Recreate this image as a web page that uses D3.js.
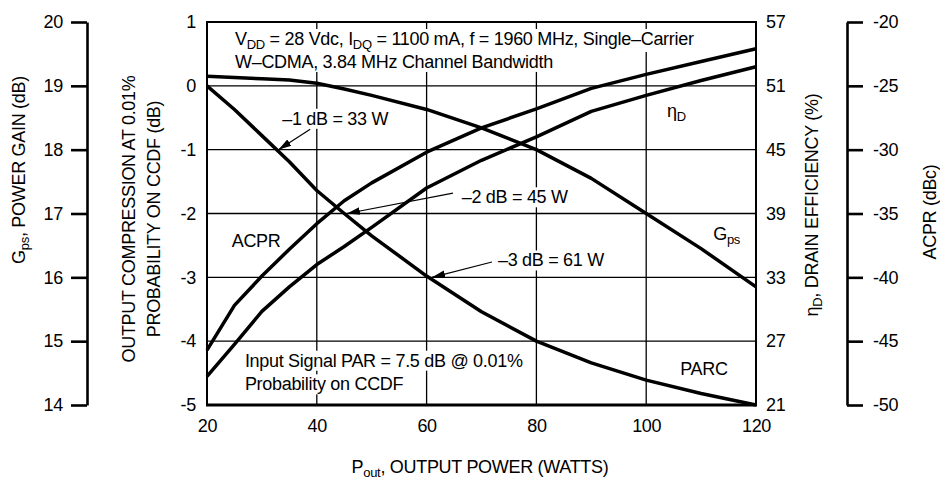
<!DOCTYPE html>
<html>
<head>
<meta charset="utf-8">
<script src="https://cdn.jsdelivr.net/npm/d3@7"></script>
<style>
  html, body { margin: 0; padding: 0; background: #fff; }
  svg { display: block; }
</style>
</head>
<body>
<script>
// ---------------- DATA ----------------
const pout   = [20, 25, 30, 35, 40, 45, 50, 60, 70, 80, 90, 100, 110, 120];
const gps    = [19.15, 19.13, 19.11, 19.09, 19.04, 18.95, 18.85, 18.63, 18.34, 18.0, 17.55, 17.0, 16.45, 15.85];
const parc   = [0, -0.37, -0.78, -1.19, -1.64, -2.0, -2.35, -2.98, -3.54, -4.0, -4.34, -4.61, -4.82, -5.0];
const acpr   = [-45.7, -42.2, -39.9, -37.8, -35.8, -34.0, -32.6, -30.2, -28.3, -26.8, -25.2, -24.1, -23.1, -22.1];
const effD   = [23.7, 26.7, 29.8, 32.1, 34.2, 35.9, 37.7, 41.4, 44.0, 46.2, 48.6, 50.1, 51.5, 52.8];

const poutTicks = [20, 40, 60, 80, 100, 120];
const gpsTicks  = [14, 15, 16, 17, 18, 19, 20];
const compTicks = [-5, -4, -3, -2, -1, 0, 1];
const effTicks  = [21, 27, 33, 39, 45, 51, 57];
const acprTicks = [-50, -45, -40, -35, -30, -25, -20];

// ---------------- SETUP ----------------
const W = 940, H = 479;
const FONT = "'Liberation Sans', Arial, Helvetica, sans-serif";
const FS = 18;
const LS = -0.3;
const L = 207, R = 756, T = 22, B = 405;

const svg = d3.select("body").append("svg")
  .attr("width", W).attr("height", H)
  .attr("font-family", FONT).attr("font-size", FS).attr("letter-spacing", LS);

svg.append("rect").attr("width", W).attr("height", H).attr("fill", "#fff");

const x = d3.scaleLinear([20, 120], [L, R]);
const yComp = d3.scaleLinear([-5, 1], [B, T]);
const yGps  = d3.scaleLinear([14, 20], [B, T]);
const yEff  = d3.scaleLinear([21, 57], [B, T]);
const yAcpr = d3.scaleLinear([-50, -20], [B, T]);

const defs = svg.append("defs");
defs.append("marker")
  .attr("id", "arr").attr("viewBox", "0 0 13 12")
  .attr("refX", 13).attr("refY", 6)
  .attr("markerWidth", 13).attr("markerHeight", 12)
  .attr("markerUnits", "userSpaceOnUse").attr("orient", "auto")
  .append("path").attr("d", "M0,2.2 L13,6 L0,9.8 Z").attr("fill", "#000");

function richText(sel, parts, subSize) {
  let shift = 0;
  parts.forEach(p => {
    const sub = !!p[1];
    const target = sub ? 4 : 0;
    const ts = sel.append("tspan").text(p[0]).attr("dy", target - shift);
    if (sub) ts.attr("font-size", subSize || 13);
    shift = target;
  });
  return sel;
}

// ---------------- GRID ----------------
const grid = svg.append("g").attr("stroke", "#000").attr("stroke-width", 1.3);
grid.selectAll(".gx").data(poutTicks.slice(1, -1)).join("line")
  .attr("x1", d => x(d)).attr("x2", d => x(d)).attr("y1", T).attr("y2", B);
grid.selectAll(".gy").data(compTicks.slice(1, -1)).join("line")
  .attr("x1", L).attr("x2", R).attr("y1", d => yComp(d)).attr("y2", d => yComp(d));

const bgLayer = svg.append("g");
const curveLayer = svg.append("g");
const frameLayer = svg.append("g");
const textLayer = svg.append("g");

// ---------------- CURVES ----------------
const series = [
  { vals: gps,  y: yGps },
  { vals: parc, y: yComp },
  { vals: acpr, y: yAcpr },
  { vals: effD, y: yEff }
];
series.forEach(s => {
  const line = d3.line().x((d, i) => x(pout[i])).y(d => s.y(d));
  curveLayer.append("path").datum(s.vals)
    .attr("d", line).attr("fill", "none").attr("stroke", "#000")
    .attr("stroke-width", 3.5).attr("stroke-linejoin", "round");
});

// ---------------- FRAME ----------------
frameLayer.append("rect").attr("x", L).attr("y", T).attr("width", R - L).attr("height", B - T)
  .attr("fill", "none").attr("stroke", "#000").attr("stroke-width", 2);
frameLayer.append("line").attr("x1", L - 1).attr("x2", R + 1).attr("y1", B).attr("y2", B)
  .attr("stroke", "#000").attr("stroke-width", 3);

// ---------------- AXES ----------------
function styleAxis(g, lineW) {
  g.attr("font-family", FONT).attr("font-size", FS);
  g.selectAll("text").attr("fill", "#000");
  g.selectAll("line,path").attr("stroke", "#000").attr("stroke-width", lineW);
}
const fmt = d => String(d);

// inner left (compression)
svg.append("g").attr("transform", `translate(${L},0)`)
  .call(d3.axisLeft(yComp).tickValues(compTicks).tickFormat(fmt).tickSize(0).tickPadding(11))
  .call(g => g.select(".domain").remove())
  .call(g => styleAxis(g, 0));

// inner right (efficiency)
svg.append("g").attr("transform", `translate(${R},0)`)
  .call(d3.axisRight(yEff).tickValues(effTicks).tickFormat(fmt).tickSize(0).tickPadding(10))
  .call(g => g.select(".domain").remove())
  .call(g => styleAxis(g, 0));

// bottom
svg.append("g").attr("transform", `translate(0,${B})`)
  .call(d3.axisBottom(x).tickValues(poutTicks).tickFormat(fmt).tickSize(0).tickPadding(14))
  .call(g => g.select(".domain").remove())
  .call(g => styleAxis(g, 0));

// outer left (Gps)
svg.append("g").attr("transform", "translate(87,0)")
  .call(d3.axisLeft(yGps).tickValues(gpsTicks).tickFormat(fmt).tickSize(16).tickSizeOuter(0).tickPadding(8))
  .call(g => styleAxis(g, 2.6));

// outer right (ACPR)
svg.append("g").attr("transform", "translate(847,0)")
  .call(d3.axisRight(yAcpr).tickValues(acprTicks).tickFormat(fmt).tickSize(16).tickSizeOuter(0).tickPadding(10))
  .call(g => styleAxis(g, 2.6));

// ---------------- AXIS TITLES ----------------
richText(svg.append("text").attr("text-anchor", "middle").attr("transform", "translate(25,170) rotate(-90)"),
  [["G"], ["ps", 1], [", POWER GAIN (dB)"]]);
svg.append("text").attr("text-anchor", "middle").attr("transform", "translate(135,219) rotate(-90)")
  .text("OUTPUT COMPRESSION AT 0.01%");
svg.append("text").attr("text-anchor", "middle").attr("transform", "translate(160,219) rotate(-90)")
  .text("PROBABILITY ON CCDF (dB)");
richText(svg.append("text").attr("text-anchor", "middle").attr("transform", "translate(818,205) rotate(-90)"),
  [["η"], ["D", 1], [", DRAIN EFFICIENCY (%)"]]);
svg.append("text").attr("text-anchor", "middle").attr("transform", "translate(936,212) rotate(-90)")
  .text("ACPR (dBc)");
richText(svg.append("text").attr("text-anchor", "middle").attr("x", 480).attr("y", 473),
  [["P"], ["out", 1], [", OUTPUT POWER (WATTS)"]]);

// ---------------- ANNOTATIONS ----------------
const labels = [
  { parts: [["V"], ["DD", 1], [" = 28 Vdc, I"], ["DQ", 1], [" = 1100 mA, f = 1960 MHz, Single–Carrier"]], w: 25.1, v: 0.64 },
  { parts: [["W–CDMA, 3.84 MHz Channel Bandwidth"]], w: 25.1, v: 0.28 },
  { parts: [["–1 dB = 33 W"]], w: 33.7, v: -0.61 },
  { parts: [["–2 dB = 45 W"]], w: 66.4, v: -1.84 },
  { parts: [["–3 dB = 61 W"]], w: 73.0, v: -2.83 },
  { parts: [["η"], ["D", 1]], w: 103.8, v: -0.49 },
  { parts: [["ACPR"]], w: 24.5, v: -2.52 },
  { parts: [["G"], ["ps", 1]], w: 112.2, v: -2.41 },
  { parts: [["PARC"]], w: 106.2, v: -4.53 },
  { parts: [["Input Signal PAR = 7.5 dB @ 0.01%"]], w: 26.9, v: -4.40 },
  { parts: [["Probability on CCDF"]], w: 26.9, v: -4.77 }
];
labels.forEach(l => {
  const t = richText(textLayer.append("text").attr("x", x(l.w)).attr("y", yComp(l.v)), l.parts);
  const bb = t.node().getBBox();
  bgLayer.append("rect").attr("x", bb.x - 2).attr("y", bb.y).attr("width", bb.width + 4)
    .attr("height", bb.height).attr("fill", "#fff");
});

const arrows = [
  { fw: 38.8, fv: -0.68, tw: 33, tv: -1 },
  { fw: 64.8, fv: -1.68, tw: 45.5, tv: -2 },
  { fw: 71.9, fv: -2.76, tw: 61, tv: -3 }
];
textLayer.selectAll(".arrow").data(arrows).join("line")
  .attr("x1", d => x(d.fw)).attr("y1", d => yComp(d.fv))
  .attr("x2", d => x(d.tw)).attr("y2", d => yComp(d.tv))
  .attr("stroke", "#000").attr("stroke-width", 1.2).attr("marker-end", "url(#arr)");
</script>
</body>
</html>
